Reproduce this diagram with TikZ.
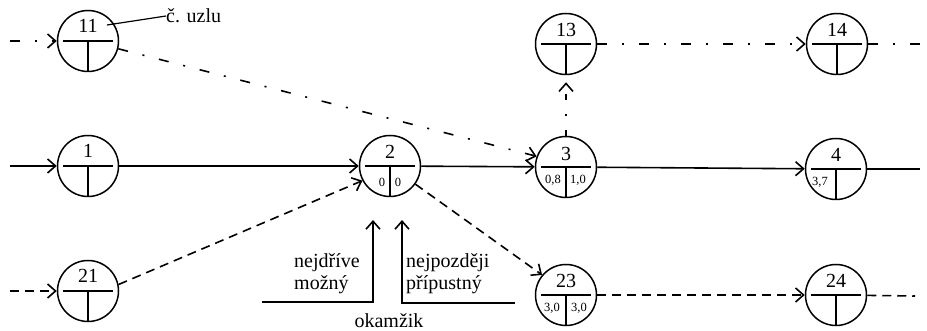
\documentclass[tikz,border=0pt]{standalone}
\usepackage{fontspec}
\setmainfont{Liberation Serif}
\usetikzlibrary{arrows.meta}
\tikzset{
  ev/.style={circle, draw, line width=1.5pt, minimum size=61pt, inner sep=0pt,
    path picture={
      \draw[line width=1.3pt] ([xshift=-25pt]path picture bounding box.center) -- ([xshift=25pt]path picture bounding box.center);
      \draw[line width=1.1pt] (path picture bounding box.center) -- (path picture bounding box.south);
    }},
  num/.style={font=\fontsize{20}{22}\selectfont, inner sep=0pt},
  val/.style={font=\fontsize{12.5}{14}\selectfont, inner sep=0pt},
  lbl/.style={font=\fontsize{20}{22}\selectfont, inner sep=0pt, align=left},
  con/.style={line width=1.6pt, -{Straight Barb[length=8pt,width=14pt,line width=1.6pt]}},
  plain/.style={line width=1.6pt},
  dsh/.style={dash pattern=on 9pt off 6pt},
  dd/.style={dash pattern=on 10pt off 15pt on 2pt off 15pt},
}
\begin{document}
\begin{tikzpicture}[x=1pt,y=-1pt]
\useasboundingbox (0,0) rectangle (927,331);
% event nodes
\node[ev] (n11) at (88,41) {};
\node[ev] (n1) at (88,166) {};
\node[ev] (n21) at (88,291) {};
\node[ev] (n2) at (390,166) {};
\node[ev] (n3) at (566,167) {};
\node[ev] (n13) at (566,44) {};
\node[ev] (n14) at (837,44) {};
\node[ev] (n4) at (836,169) {};
\node[ev] (n23) at (566,295) {};
\node[ev] (n24) at (836,295) {};
% numbers
\node[num] (t11) at ([yshift=15pt]n11.center) {11};
\node[num] (t1) at ([yshift=15pt]n1.center) {1};
\node[num] (t21) at ([yshift=15pt]n21.center) {21};
\node[num] (t2) at ([yshift=14pt]n2.center) {2};
\node[num] (t3) at ([yshift=13pt]n3.center) {3};
\node[num] (t13) at ([yshift=14pt]n13.center) {13};
\node[num] (t14) at ([yshift=14pt]n14.center) {14};
\node[num] (t4) at ([yshift=14pt]n4.center) {4};
\node[num] (t23) at ([yshift=14pt]n23.center) {23};
\node[num] (t24) at ([yshift=14pt]n24.center) {24};
% values
\node[val] (v2a) at (382,182) {0};
\node[val] (v2b) at (398,182) {0};
\node[val] (v3a) at (553,180) {0,8};
\node[val] (v3b) at (578,180) {1,0};
\node[val] (v4a) at (820,182) {3,7};
\node[val] (v23a) at (552,308) {3,0};
\node[val] (v23b) at (579,308) {3,0};
% free ends
\coordinate (in11) at (10,41);
\coordinate (in1) at (10,166);
\coordinate (in21) at (10,291);
\coordinate (out14) at (927,44);
\coordinate (out4) at (920,169);
\coordinate (out24) at (915,296);
% connectors
\draw[con,dd] (in11) -- (n11);
\draw[con,dd] (n11) -- (n3.160);
\draw[con] (in1) -- (n1);
\draw[con] (n1) -- (n2);
\draw[con,dsh] (in21) -- (n21);
\draw[con,dsh] (n21.12) -- (n2.208);
\draw[con] (n2) -- (n3);
\draw[con,dsh] (n2) -- (n23.140);
\draw[con,dash pattern=on 6pt off 14pt on 2pt off 14pt] (n3) -- ([yshift=-7pt]n13.south);
\draw[con,dd] (n13) -- (n14);
\draw[plain,dd] (n14) -- (out14);
\draw[con] (n3) -- (n4);
\draw[plain] (n4) -- (out4);
\draw[con,dsh] (n23) -- (n24);
\draw[plain,dsh] (n24) -- (out24);
% node number label
\node[lbl, anchor=west] (cu) at (166,16) {č. uzlu};
\coordinate (c11) at (107,25);
\draw[line width=1.2pt] (c11) -- (cu.west);
% moment annotation
\coordinate (a1) at (262,302);
\coordinate (a2) at (373,302);
\coordinate (a3) at (373,220);
\coordinate (b1) at (515,303);
\coordinate (b2) at (402,303);
\coordinate (b3) at (402,220);
\draw[con] (a1) -- (a2) -- (a3);
\draw[con] (b1) -- (b2) -- (b3);
\node[lbl, anchor=west] (nm) at (294,274) {nejdříve\\možný};
\node[lbl, anchor=west] (np) at (406,274) {nejpozději\\přípustný};
\node[lbl] (ok) at (389,321) {okamžik};
\end{tikzpicture}
\end{document}
